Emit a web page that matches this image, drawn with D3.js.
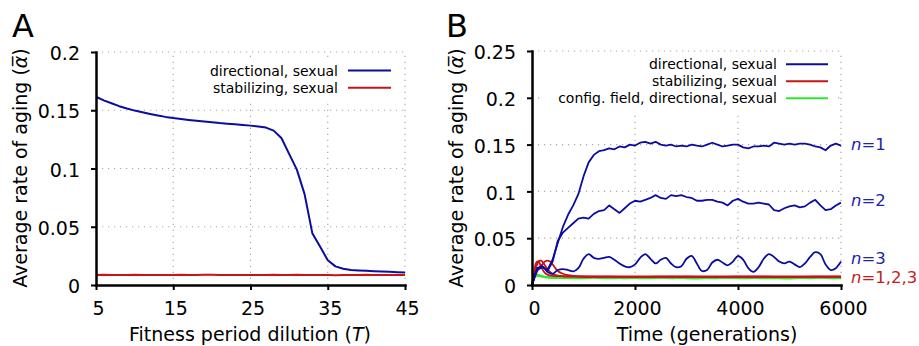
<!DOCTYPE html>
<html>
<head>
<meta charset="utf-8">
<script src="https://cdn.jsdelivr.net/npm/d3@7"></script>
<style>
  html, body { margin: 0; padding: 0; background: #fff; }
  svg { display: block; font-family: "DejaVu Sans", sans-serif; }
</style>
</head>
<body>
<div id="chart"></div>
<script>
// ---- panel A data: fitness period dilution vs average rate of aging
const dilutionT = [5, 6, 7, 8, 9, 10, 11, 12, 13, 14, 15, 16, 17, 18, 19, 20, 21, 22, 23, 24, 25,
  26, 27, 28, 29, 30, 31, 32, 33, 34, 35, 36, 37, 38, 39, 40, 41, 42, 43, 44, 45];
const directionalA = [0.1616, 0.1585, 0.1560, 0.1535, 0.1515, 0.1497, 0.1482, 0.1468, 0.1455, 0.1443,
  0.1433, 0.1425, 0.1417, 0.1410, 0.1403, 0.1397, 0.1390, 0.1385, 0.1380, 0.1374, 0.1368,
  0.1361, 0.1351, 0.1325, 0.1262, 0.1125, 0.0990, 0.0780, 0.0445, 0.0330, 0.0213, 0.0160,
  0.0140, 0.0129, 0.0125, 0.0122, 0.0119, 0.0116, 0.0113, 0.0110, 0.0108];
const stabilizingA = [0.0086, 0.0087, 0.0086, 0.0086, 0.0086, 0.0087, 0.0086, 0.0086, 0.0086, 0.0086,
  0.0086, 0.0087, 0.0086, 0.0086, 0.0087, 0.0087, 0.0086, 0.0086, 0.0086, 0.0086, 0.0086,
  0.0086, 0.0086, 0.0087, 0.0086, 0.0086, 0.0087, 0.0086, 0.0086, 0.0086, 0.0085, 0.0084,
  0.0085, 0.0086, 0.0086, 0.0087, 0.0086, 0.0086, 0.0086, 0.0086, 0.0086];
const xTicksA = [5, 15, 25, 35, 45];
const yTicksA = [0, 0.05, 0.1, 0.15, 0.2];

// ---- panel B data: time series, sampled every 100 generations
const timeB = d3.range(0, 6001, 100);
const directionalN1 = [0, 0.016, 0.019, 0.016, 0.027, 0.045, 0.062, 0.075, 0.085, 0.097,
  0.116, 0.131, 0.139, 0.143, 0.144, 0.146, 0.145, 0.148, 0.147, 0.150,
  0.149, 0.152, 0.153, 0.151, 0.153, 0.150, 0.149, 0.150, 0.148, 0.149,
  0.148, 0.150, 0.149, 0.148, 0.150, 0.152, 0.150, 0.148, 0.149, 0.150,
  0.150, 0.147, 0.146, 0.148, 0.148, 0.149, 0.148, 0.152, 0.151, 0.150,
  0.151, 0.150, 0.151, 0.151, 0.150, 0.148, 0.147, 0.144, 0.149, 0.151, 0.149];
const directionalN2 = [0, 0.018, 0.020, 0.015, 0.025, 0.047, 0.056, 0.061, 0.066, 0.071,
  0.072, 0.071, 0.076, 0.079, 0.080, 0.085, 0.081, 0.077, 0.082, 0.087,
  0.090, 0.089, 0.091, 0.093, 0.096, 0.093, 0.092, 0.096, 0.095, 0.096,
  0.094, 0.093, 0.090, 0.090, 0.091, 0.091, 0.089, 0.088, 0.085, 0.090,
  0.092, 0.089, 0.087, 0.087, 0.088, 0.087, 0.086, 0.080, 0.079, 0.082,
  0.084, 0.085, 0.083, 0.084, 0.088, 0.091, 0.085, 0.080, 0.081, 0.085, 0.088];
const directionalN3 = [0, 0.016, 0.020, 0.014, 0.012, 0.016, 0.017, 0.016, 0.0145, 0.018,
  0.028, 0.033, 0.029, 0.028, 0.029, 0.030, 0.027, 0.023, 0.020, 0.019,
  0.022, 0.029, 0.033, 0.028, 0.023, 0.027, 0.029, 0.023, 0.019, 0.020,
  0.028, 0.031, 0.023, 0.015, 0.016, 0.024, 0.027, 0.024, 0.021, 0.025,
  0.031, 0.027, 0.018, 0.014, 0.019, 0.028, 0.033, 0.030, 0.025, 0.023,
  0.025, 0.022, 0.019, 0.023, 0.030, 0.035, 0.033, 0.022, 0.016, 0.018, 0.025];

const stabTime = [0, 25, 50, 75, 100, 125, 150, 175, 200, 250, 300, 350, 400, 500, 600, 700, 800,
  1000, 1500, 2000, 2500, 3000, 3500, 4000, 4500, 5000, 5500, 6000];
const stabilizingN1 = [0, 0.009, 0.017, 0.023, 0.025, 0.025, 0.023, 0.020, 0.017, 0.013, 0.011,
  0.0102, 0.0098, 0.0095, 0.0094, 0.0094, 0.0093, 0.0093, 0.0092, 0.0093, 0.0092, 0.0093,
  0.0092, 0.0093, 0.0092, 0.0093, 0.0092, 0.0092];
const stabilizingN2 = [0, 0.007, 0.013, 0.018, 0.022, 0.025, 0.026, 0.026, 0.025, 0.021, 0.017,
  0.014, 0.012, 0.010, 0.0093, 0.0090, 0.0089, 0.0088, 0.0088, 0.0087, 0.0088, 0.0088,
  0.0087, 0.0088, 0.0088, 0.0087, 0.0088, 0.0088];
const stabilizingN3 = [0, 0.005, 0.009, 0.012, 0.015, 0.017, 0.019, 0.021, 0.022, 0.025, 0.026,
  0.025, 0.022, 0.015, 0.012, 0.0105, 0.0097, 0.0088, 0.0085, 0.0084, 0.0085, 0.0084,
  0.0084, 0.0085, 0.0084, 0.0084, 0.0085, 0.0084];

const fieldTime = [0, 25, 50, 75, 100, 150, 200, 300, 400, 600, 900, 1200, 1500, 1800, 2100,
  2400, 2700, 3000, 3300, 3600, 3900, 4200, 4500, 4800, 5100, 5400, 5700, 6000];
const fieldN1 = [0, 0.006, 0.0095, 0.011, 0.0112, 0.0104, 0.0095, 0.0085, 0.0082, 0.0080, 0.0086,
  0.0078, 0.0070, 0.0078, 0.0086, 0.0080, 0.0072, 0.0077, 0.0085, 0.0082, 0.0073, 0.0070,
  0.0080, 0.0087, 0.0079, 0.0072, 0.0080, 0.0086];
const fieldN2 = [0, 0.005, 0.0085, 0.010, 0.0105, 0.0100, 0.0092, 0.0083, 0.0078, 0.0074, 0.0070,
  0.0078, 0.0086, 0.0080, 0.0071, 0.0074, 0.0084, 0.0086, 0.0075, 0.0070, 0.0080, 0.0086,
  0.0082, 0.0072, 0.0070, 0.0080, 0.0086, 0.0078];
const fieldN3 = [0, 0.0045, 0.0078, 0.0092, 0.0098, 0.0094, 0.0088, 0.0080, 0.0076, 0.0078, 0.0080,
  0.0084, 0.0078, 0.0072, 0.0078, 0.0086, 0.0082, 0.0072, 0.0070, 0.0079, 0.0086, 0.0078,
  0.0071, 0.0075, 0.0084, 0.0085, 0.0075, 0.0070];

const xTicksB = [0, 2000, 4000, 6000];
const yTicksB = [0, 0.05, 0.1, 0.15, 0.2, 0.25];
const seriesLabelsB = [
  { n: '1', at: 0.1506, color: 'blue' },
  { n: '2', at: 0.0908, color: 'blue' },
  { n: '3', at: 0.0292, color: 'blue' },
  { n: '1,2,3', at: 0.0089, color: 'red' }
];

// ---- styles
const BLUE = '#0c0ca0';
const RED = '#c81414';
const GREEN = '#2ee82e';
const LABEL_BLUE = '#2323a8';
const LABEL_RED = '#c41c1c';
const FONT = '"DejaVu Sans", sans-serif';

const svg = d3.select('#chart').append('svg')
  .attr('width', 919)
  .attr('height', 346);

// helper: dotted grid
function drawGrid(g, x, y, xVals, yVals) {
  const [x0, x1] = x.range();
  const [y0, y1] = y.range();
  g.selectAll('.gx').data(xVals).enter().append('line')
    .attr('x1', d => x(d)).attr('x2', d => x(d))
    .attr('y1', y0).attr('y2', y1)
    .attr('stroke', '#a8a8a8').attr('stroke-width', 1.2)
    .attr('stroke-dasharray', '1.2,4.8');
  g.selectAll('.gy').data(yVals).enter().append('line')
    .attr('x1', x0).attr('x2', x1)
    .attr('y1', d => y(d)).attr('y2', d => y(d))
    .attr('stroke', '#a8a8a8').attr('stroke-width', 1.2)
    .attr('stroke-dasharray', '1.2,4.8');
}

// helper: axes
function drawAxes(g, x, y, xTicks, yTicks) {
  const fmt = d => String(d);
  const xAxis = g.append('g')
    .attr('transform', `translate(0,${y.range()[0]})`)
    .call(d3.axisBottom(x).tickValues(xTicks).tickSizeInner(5).tickSizeOuter(0)
      .tickPadding(11.5).tickFormat(fmt));
  const yAxis = g.append('g')
    .attr('transform', `translate(${x.range()[0]},0)`)
    .call(d3.axisLeft(y).tickValues(yTicks).tickSizeInner(5).tickSizeOuter(0)
      .tickPadding(11).tickFormat(fmt));
  [xAxis, yAxis].forEach(a => {
    a.attr('font-family', FONT).attr('font-size', 19);
    a.select('.domain').attr('stroke-width', 2.5).attr('stroke-linecap', 'square');
    a.selectAll('.tick line').attr('stroke-width', 2);
    a.selectAll('.tick text').attr('fill', '#000');
  });
  xAxis.selectAll('.tick text').attr('dx', 2);
  yAxis.selectAll('.tick text').attr('dy', '0.4em');
}

function yTitle(g, xPos, yPos) {
  const t = g.append('text')
    .attr('transform', `translate(${xPos},${yPos}) rotate(-90)`)
    .attr('text-anchor', 'middle')
    .attr('font-family', FONT)
    .attr('font-size', 19);
  t.append('tspan').text('Average rate of aging (');
  t.append('tspan').attr('font-style', 'italic').text('\u03B1\u0305');
  t.append('tspan').text(')');
}

function legend(g, box, rows, textX, lineX0, lineX1) {
  g.append('rect')
    .attr('x', box[0]).attr('y', box[1])
    .attr('width', box[2]).attr('height', box[3])
    .attr('fill', '#fff');
  rows.forEach(r => {
    g.append('text')
      .attr('x', textX).attr('y', r.y)
      .attr('dy', '0.36em')
      .attr('text-anchor', 'end')
      .attr('font-family', FONT)
      .attr('font-size', 14)
      .text(r.label);
    g.append('line')
      .attr('x1', lineX0).attr('x2', lineX1)
      .attr('y1', r.y).attr('y2', r.y)
      .attr('stroke', r.color).attr('stroke-width', 2);
  });
}

// =================== Panel A ===================
const gA = svg.append('g');
const xA = d3.scaleLinear().domain([5, 45]).range([96, 405]);
const yA = d3.scaleLinear().domain([0, 0.2]).range([285, 52]);

drawGrid(gA, xA, yA, xTicksA.slice(1), yTicksA.slice(1));
legend(gA, [205, 58, 193, 42], [
  { label: 'directional, sexual', y: 70.5, color: BLUE },
  { label: 'stabilizing, sexual', y: 87.7, color: RED }
], 338, 348, 391);

const lineA = d3.line()
  .x((d, i) => xA(dilutionT[i]))
  .y(d => yA(d));

gA.append('path').datum(stabilizingA)
  .attr('fill', 'none').attr('stroke', RED).attr('stroke-width', 2)
  .attr('d', lineA);
gA.append('path').datum(directionalA)
  .attr('fill', 'none').attr('stroke', BLUE).attr('stroke-width', 2)
  .attr('stroke-linejoin', 'round')
  .attr('d', lineA);

drawAxes(gA, xA, yA, xTicksA, yTicksA);
yTitle(gA, 26.5, 168);

const xtA = gA.append('text')
  .attr('x', 250).attr('y', 341)
  .attr('text-anchor', 'middle')
  .attr('font-family', FONT).attr('font-size', 19);
xtA.append('tspan').text('Fitness period dilution (');
xtA.append('tspan').attr('font-style', 'italic').text('T');
xtA.append('tspan').text(')');

gA.append('text')
  .attr('x', 12).attr('y', 36.7)
  .attr('font-family', FONT).attr('font-size', 32)
  .text('A');

// =================== Panel B ===================
const gB = svg.append('g');
const xB = d3.scaleLinear().domain([0, 6000]).range([532, 841]);
const yB = d3.scaleLinear().domain([0, 0.25]).range([285, 51]);

drawGrid(gB, xB, yB, xTicksB.slice(1), yTicksB.slice(1));
legend(gB, [543, 56, 293, 56], [
  { label: 'directional, sexual', y: 64.3, color: BLUE },
  { label: 'stabilizing, sexual', y: 81.2, color: RED },
  { label: 'config. field, directional, sexual', y: 98.3, color: GREEN }
], 777, 786, 828);

const smooth = (times) => d3.line()
  .x((d, i) => xB(times[i]))
  .y(d => yB(d))
  .curve(d3.curveCatmullRom);
const jagged = (times) => d3.line()
  .x((d, i) => xB(times[i]))
  .y(d => yB(d));

[fieldN1, fieldN2, fieldN3].forEach(s => {
  gB.append('path').datum(s)
    .attr('fill', 'none').attr('stroke', GREEN).attr('stroke-width', 1.8)
    .attr('d', smooth(fieldTime));
});
[stabilizingN1, stabilizingN2, stabilizingN3].forEach(s => {
  gB.append('path').datum(s)
    .attr('fill', 'none').attr('stroke', RED).attr('stroke-width', 1.8)
    .attr('d', smooth(stabTime));
});
gB.append('path').datum(directionalN3)
  .attr('fill', 'none').attr('stroke', BLUE).attr('stroke-width', 1.8)
  .attr('d', smooth(timeB));
[directionalN2, directionalN1].forEach(s => {
  gB.append('path').datum(s)
    .attr('fill', 'none').attr('stroke', BLUE).attr('stroke-width', 1.8)
    .attr('stroke-linejoin', 'round')
    .attr('d', jagged(timeB));
});

drawAxes(gB, xB, yB, xTicksB, yTicksB);
yTitle(gB, 462.5, 168);

gB.append('text')
  .attr('x', 707).attr('y', 341)
  .attr('text-anchor', 'middle')
  .attr('font-family', FONT).attr('font-size', 19)
  .text('Time (generations)');

gB.append('text')
  .attr('x', 446).attr('y', 36.7)
  .attr('font-family', FONT).attr('font-size', 32)
  .text('B');

// n = ... annotations at the right edge
seriesLabelsB.forEach(l => {
  const t = gB.append('text')
    .attr('x', 851).attr('y', yB(l.at))
    .attr('dy', '0.36em')
    .attr('font-family', FONT).attr('font-size', 16.5)
    .attr('fill', l.color === 'blue' ? LABEL_BLUE : LABEL_RED);
  t.append('tspan').attr('font-style', 'italic').text('n');
  t.append('tspan').text('=' + l.n);
});
</script>
</body>
</html>
